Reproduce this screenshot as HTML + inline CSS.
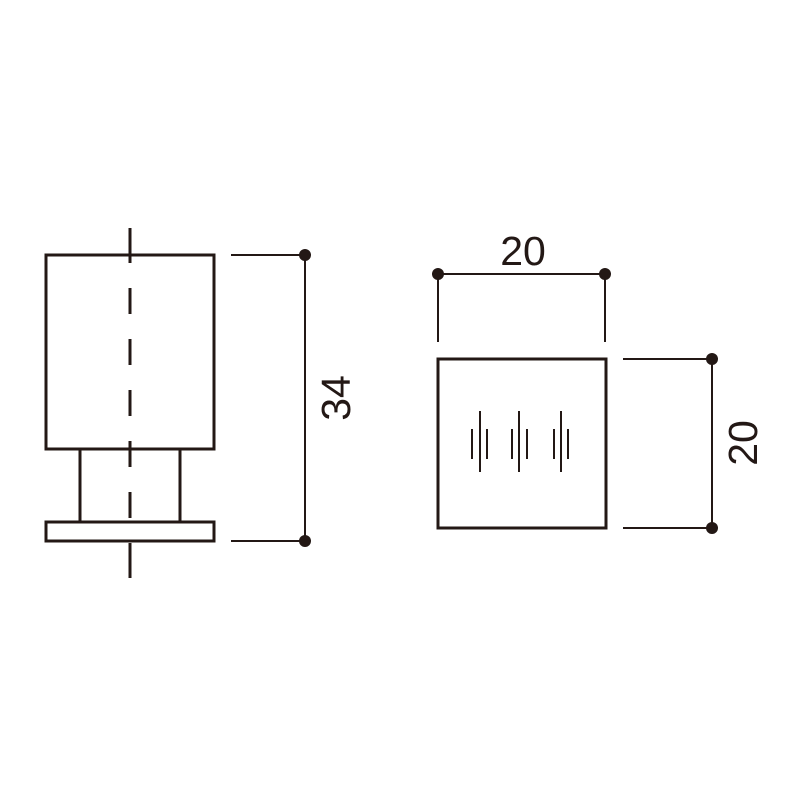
<!DOCTYPE html>
<html><head><meta charset="utf-8"><style>html,body{margin:0;padding:0;background:#fff}</style></head>
<body>
<svg width="800" height="800" xmlns="http://www.w3.org/2000/svg" style="display:block">
<g stroke="#231815" fill="none" stroke-width="3">
<rect x="46" y="255" width="168" height="194"/>
<line x1="80" y1="449" x2="80" y2="522"/>
<line x1="180" y1="449" x2="180" y2="522"/>
<rect x="46" y="522" width="168" height="19"/>
<line x1="130" y1="228" x2="130" y2="578" stroke-dasharray="35 25 26 25 26 25 26 25 26 25 26 25 37"/>
<line x1="231" y1="255" x2="305" y2="255" stroke-width="2"/>
<line x1="231" y1="541" x2="305" y2="541" stroke-width="2"/>
<line x1="305" y1="255" x2="305" y2="541" stroke-width="2"/>
<rect x="438" y="359" width="168" height="169"/>
<line x1="438" y1="274" x2="605" y2="274" stroke-width="2"/>
<line x1="438" y1="274" x2="438" y2="342" stroke-width="2"/>
<line x1="605" y1="274" x2="605" y2="342" stroke-width="2"/>
<line x1="623" y1="359" x2="712" y2="359" stroke-width="2"/>
<line x1="623" y1="528" x2="712" y2="528" stroke-width="2"/>
<line x1="712" y1="359" x2="712" y2="528" stroke-width="2"/>
<g stroke-width="2">
<line x1="480" y1="411" x2="480" y2="472"/><line x1="472" y1="429" x2="472" y2="459"/><line x1="487" y1="429" x2="487" y2="459"/>
<line x1="519" y1="411" x2="519" y2="472"/><line x1="512" y1="429" x2="512" y2="459"/><line x1="527" y1="429" x2="527" y2="459"/>
<line x1="561" y1="411" x2="561" y2="472"/><line x1="554" y1="429" x2="554" y2="459"/><line x1="568" y1="429" x2="568" y2="459"/>
</g>
</g>
<g fill="#231815">
<circle cx="305" cy="255" r="6"/><circle cx="305" cy="541" r="6"/>
<circle cx="438" cy="274" r="6"/><circle cx="605" cy="274" r="6"/>
<circle cx="712" cy="359" r="6"/><circle cx="712" cy="528" r="6"/>
<g font-family="Liberation Sans, sans-serif" font-size="41" text-anchor="middle">
<text x="523" y="265">20</text>
<text transform="translate(350,398) rotate(-90)">34</text>
<text transform="translate(757,443) rotate(-90)">20</text>
</g>
</g>
</svg>
</body></html>
